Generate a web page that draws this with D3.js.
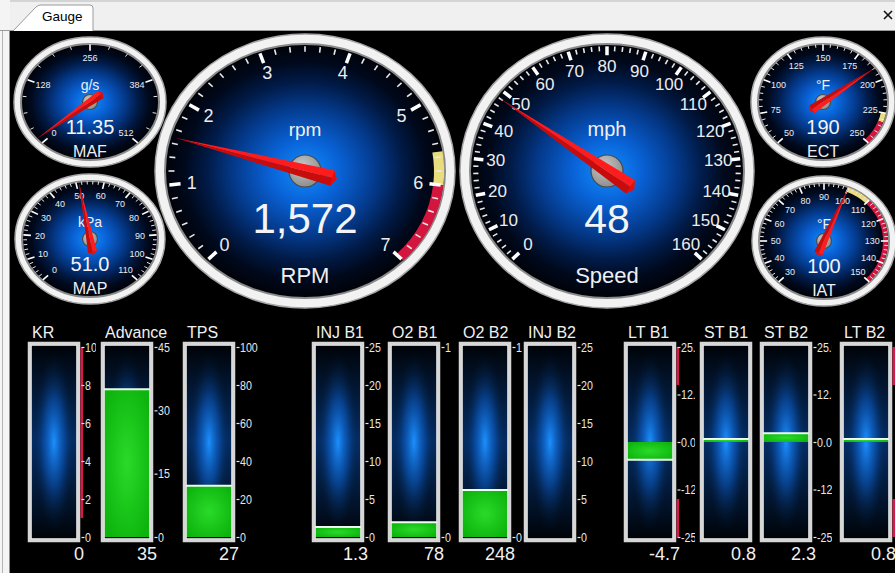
<!DOCTYPE html>
<html><head><meta charset="utf-8">
<script src="https://cdn.jsdelivr.net/npm/d3@7"></script>
<style>html,body{margin:0;padding:0;background:#000;overflow:hidden}svg{display:block}</style>
</head><body><svg id="c" width="895" height="573"></svg>
<script>
// ---------- DATA ----------
const gaugeNames   = ["MAF","MAP","RPM","Speed","ECT","IAT"];
const gaugeUnits   = ["g/s","kPa","rpm","mph","°F","°F"];
const gaugeValues  = [11.35, 51.0, 1572, 48, 190, 100];
const gaugeValueFormats = [".2f", ".1f", ",.0f", ".0f", ".0f", ".0f"];
const gaugeDomains = [[0,512],[0,110],[0,7000],[0,160],[50,250],[30,150]];
const gaugeMajorStep = [128, 10, 1000, 10, 25, 10];
const gaugeMinorStep = [32, 2, 1000/6, 2, 5, 2];
const gaugeLabelDivisor = [1, 1, 1000, 1, 1, 1];
const gaugeWarnZones = [null, null, [5600,6000], null, [225,232], [100,110]];
const gaugeRedZones  = [null, null, [6000,7000], null, [232,250], [110,150]];

const barNames   = ["KR","Advance","TPS","INJ B1","O2 B1","O2 B2","INJ B2","LT B1","ST B1","ST B2","LT B2"];
const barValues  = [0, 35, 27, 1.3, 78, 248, null, -4.7, 0.8, 2.3, 0.8];
const barValueFormats = ["d","d","d",".1f","d","d","d",".1f",".1f",".1f",".1f"];
const barDomains = [[0,10],[0,45],[0,100],[0,25],[0,1000],[0,1000],[0,25],[-25,25],[-25,25],[-25,25],[-25,25]];
const trimTicks = [-25,-12.5,0,12.5,25];
const barTicks   = [[0,2,4,6,8,10],[0,15,30,45],[0,20,40,60,80,100],[0,5,10,15,20,25],[0,1000],[0,1000],[0,5,10,15,20,25],trimTicks,trimTicks,trimTicks,trimTicks];
const barTickDivisor = [1,1,1,1,1000,1000,1,1,1,1,1];
const barTickFormats = ["d","d","d","d","d","d","d",".1f",".1f",".1f",".1f"];
const barRedZones = [[[1,10]],[],[],[],[],[],[],[[15,25],[-25,-15]],[],[],[[15,25],[-25,-15]]];

const tabLabel = "Gauge";

// ---------- LAYOUT ----------
const W = 895;
const FONT = "'Liberation Sans', Arial, sans-serif";
const loc = d3.formatLocale({decimal: ".", thousands: ",", grouping: [3], currency: ["$", ""], minus: "-"});
const small = {ring:7, hub:7.5, tickOut:.89, majIn:.79, minIn:.84, majW:1.6, minW:1, labelR:.67, zoneIn:.82, zoneOut:.89,
               fsTick:9, fsUnit:14, fsVal:20, fsName:16, yUnit:-.19, yVal:.49, yName:.84, tail:13, half:4.5};
const gaugeLayout = [
  Object.assign({cx:90, cy:102, rx:76, ry:65}, small),
  Object.assign({cx:90, cy:239, rx:75, ry:65}, small),
  {cx:305, cy:171, rx:150, ry:137, ring:10, hub:16, tickOut:.91, majIn:.835, minIn:.87, majW:3.5, minW:1.6, labelR:.76, zoneIn:.86, zoneOut:.928,
   fsTick:18, fsUnit:19, fsVal:42, fsName:22, yUnit:-.255, yVal:.45, yName:.82, tail:28, half:8},
  {cx:607, cy:171, rx:147, ry:137, ring:10, hub:16, tickOut:.91, majIn:.845, minIn:.875, majW:3.5, minW:1.6, labelR:.76, zoneIn:.86, zoneOut:.928,
   fsTick:17, fsUnit:20, fsVal:41, fsName:22, yUnit:-.255, yVal:.45, yName:.82, tail:28, half:8},
  Object.assign({cx:823, cy:102, rx:72, ry:65}, small),
  Object.assign({cx:824, cy:241, rx:72, ry:65}, small)
];
const barX = [28, 101, 183, 312, 388, 459, 524, 624, 700, 760, 840];
const barCover = [5, 5, 5, 5, 5, 5, 2, 5, 5, 7, 8];
const barW = 52, barTop = 342, barBot = 542;

const svg = d3.select("#c");
const defs = svg.append("defs");
function grad(type, id, stops, attrs) {
  const gr = defs.append(type).attr("id", id);
  Object.entries(attrs || {}).forEach(([k,v]) => gr.attr(k, v));
  stops.forEach(([o,c,a]) => gr.append("stop").attr("offset", o).attr("stop-color", c).attr("stop-opacity", a == null ? 1 : a));
}
grad("radialGradient", "face", [[0,"#108eff"],[0.25,"#0962d6"],[0.5,"#043b8e"],[0.7,"#011b48"],[0.86,"#00091c"],[1,"#000208"]], {cx:"50%", cy:"50%", r:"50%"});
grad("linearGradient", "barBase", [[0,"#000308"],[0.5,"#05306a"],[1,"#000308"]], {x1:0,y1:0,x2:0,y2:1});
grad("radialGradient", "barGlow", [[0,"#1c90ff",1],[0.45,"#0b5cc4",0.55],[1,"#000000",0]], {cx:"50%", cy:"50%", r:"50%"});
grad("radialGradient", "green", [[0,"#2ada2a"],[1,"#0db40d"]], {cx:"50%", cy:"50%", r:"60%"});
grad("radialGradient", "hubGrad", [[0,"#c8c8c8"],[1,"#8a8a8a"]], {cx:"40%", cy:"35%", r:"70%"});

// ---------- CHROME ----------
svg.append("rect").attr("width", W).attr("height", 573).attr("fill", "#000");
svg.append("rect").attr("width", W).attr("height", 31).attr("fill", "#f0f0f0");
svg.append("rect").attr("width", W).attr("height", 2).attr("fill", "#d4d4d4");
svg.append("rect").attr("x", 0).attr("y", 0).attr("width", 10).attr("height", 573).attr("fill", "#f4f4f4");
svg.append("line").attr("x1", 2.5).attr("x2", 2.5).attr("y1", 30).attr("y2", 573).attr("stroke", "#b4b4b4");
svg.append("line").attr("x1", 9.5).attr("x2", 9.5).attr("y1", 30).attr("y2", 573).attr("stroke", "#8c8c8c");
svg.append("line").attr("x1", 0).attr("x2", W).attr("y1", 30.5).attr("y2", 30.5).attr("stroke", "#9c9c9c");
svg.append("path").attr("d", "M13,31 L36,7 Q38,5 41,5 L90,5 Q93,5 93,8 L93,31")
  .attr("fill", "#ffffff").attr("stroke", "#9a9a9a").attr("stroke-width", 1);
svg.append("text").attr("x", 42).attr("y", 21).attr("font-family", FONT).attr("font-size", 13.5).attr("fill", "#000").text(tabLabel);
svg.append("path").attr("d", "M884,11 L892,19 M892,11 L884,19").attr("stroke", "#111").attr("stroke-width", 1.6);

// ---------- GAUGES ----------
function pt(L, deg, rx, ry) { const a = deg * Math.PI / 180; return [rx * L * Math.sin(a), -ry * L * Math.cos(a)]; }

gaugeNames.forEach((name, i) => {
  const L = gaugeLayout[i];
  const [d0, d1] = gaugeDomains[i];
  const ang = d3.scaleLinear().domain([d0, d1]).range([-135, 135]);
  const g = svg.append("g").attr("transform", `translate(${L.cx},${L.cy})`);
  g.append("ellipse").attr("rx", L.rx).attr("ry", L.ry).attr("fill", "#f2f2f2").attr("stroke", "#a6a6a6").attr("stroke-width", 1.5);
  g.append("ellipse").attr("rx", L.rx - L.ring).attr("ry", L.ry - L.ring).attr("fill", "url(#face)").attr("stroke", "#8a8a8a").attr("stroke-width", 2);

  const zg = g.append("g").attr("transform", `scale(${L.rx},${L.ry})`);
  const zarc = d3.arc().innerRadius(L.zoneIn).outerRadius(L.zoneOut);
  [[gaugeWarnZones[i], "#e9dc7c"], [gaugeRedZones[i], "#d4163f"]].forEach(([z, col]) => {
    if (!z) return;
    zg.append("path").attr("d", zarc({startAngle: ang(z[0]) * Math.PI / 180, endAngle: ang(z[1]) * Math.PI / 180})).attr("fill", col);
  });

  const nMinor = Math.round((d1 - d0) / gaugeMinorStep[i]);
  const minor = d3.range(nMinor + 1).map(k => d0 + k * gaugeMinorStep[i]);
  const nMajor = Math.round((d1 - d0) / gaugeMajorStep[i]);
  const major = d3.range(nMajor + 1).map(k => d0 + k * gaugeMajorStep[i]);
  const isMajor = v => major.some(m => Math.abs(m - v) < 1e-6);
  const seg = (rIn) => function(v) {
    const a = pt(rIn, ang(v), L.rx, L.ry), b = pt(L.tickOut, ang(v), L.rx, L.ry);
    d3.select(this).attr("x1", a[0]).attr("y1", a[1]).attr("x2", b[0]).attr("y2", b[1]);
  };
  g.selectAll(".minor").data(minor.filter(v => !isMajor(v))).join("line").each(seg(L.minIn))
    .attr("stroke", "#e8e8e8").attr("stroke-width", L.minW);
  g.selectAll(".major").data(major).join("line").each(seg(L.majIn))
    .attr("stroke", "#ffffff").attr("stroke-width", L.majW);
  g.selectAll(".lbl").data(major).join("text")
    .attr("x", v => pt(L.labelR, ang(v), L.rx, L.ry)[0])
    .attr("y", v => pt(L.labelR, ang(v), L.rx, L.ry)[1])
    .attr("text-anchor", "middle").attr("dominant-baseline", "central")
    .attr("font-family", FONT).attr("font-size", L.fsTick).attr("fill", "#ececec")
    .text(v => Math.round(v / gaugeLabelDivisor[i]));

  g.append("text").attr("y", L.yUnit * L.ry).attr("text-anchor", "middle").attr("font-family", FONT)
    .attr("font-size", L.fsUnit).attr("fill", "#f0f0f0").text(gaugeUnits[i]);
  g.append("text").attr("y", L.yVal * L.ry).attr("text-anchor", "middle").attr("font-family", FONT)
    .attr("font-size", L.fsVal).attr("fill", "#f4f4f4").text(loc.format(gaugeValueFormats[i])(gaugeValues[i]));
  g.append("text").attr("y", L.yName * L.ry).attr("text-anchor", "middle").attr("font-family", FONT)
    .attr("font-size", L.fsName).attr("fill", "#f0f0f0").text(name);

  g.append("circle").attr("r", L.hub).attr("fill", "url(#hubGrad)").attr("stroke", "#4a4a4a").attr("stroke-width", 1.2);
  const a = ang(gaugeValues[i]);
  const tip = pt(0.9, a, L.rx, L.ry);
  const len = Math.hypot(tip[0], tip[1]);
  const d = [tip[0] / len, tip[1] / len], p = [-d[1], d[0]];
  const tail = [-d[0] * L.tail, -d[1] * L.tail];
  const tailEnd = [tail[0] - d[0] * L.half * 0.6, tail[1] - d[1] * L.half * 0.6];
  const b1 = [tail[0] + p[0] * L.half, tail[1] + p[1] * L.half];
  const b2 = [tail[0] - p[0] * L.half, tail[1] - p[1] * L.half];
  g.append("path").attr("d", `M${tip}L${b1}L${tailEnd}Z`).attr("fill", "#ff1c1c");
  g.append("path").attr("d", `M${tip}L${b2}L${tailEnd}Z`).attr("fill", "#c80b0b");
  g.append("path").attr("d", `M${b1}L${tailEnd}L${b2}L${tail}Z`).attr("fill", "#e01010");
});

// ---------- BARS ----------
barNames.forEach((name, i) => {
  const x0 = barX[i], x1 = x0 + barW;
  const y = d3.scaleLinear().domain(barDomains[i]).range([barBot - 5, barTop + 5]);
  const g = svg.append("g");
  g.append("rect").attr("x", x0 - barCover[i]).attr("y", barTop - 1).attr("width", barCover[i]).attr("height", barBot - barTop + 3).attr("fill", "#000");
  g.append("rect").attr("x", x0 + 3).attr("y", barTop + 3).attr("width", barW - 6).attr("height", barBot - barTop - 6).attr("fill", "url(#barBase)");
  g.append("rect").attr("x", x0 + 3).attr("y", barTop + 3).attr("width", barW - 6).attr("height", barBot - barTop - 6).attr("fill", "url(#barGlow)");
  const v = barValues[i];
  const base = barDomains[i][0] < 0 ? 0 : barDomains[i][0];
  if (v != null && v !== base) {
    const ya = y(Math.max(v, base)), yb = y(Math.min(v, base));
    g.append("rect").attr("x", x0 + 3).attr("y", ya).attr("width", barW - 6).attr("height", Math.max(yb - ya, 1.5)).attr("fill", "url(#green)");
    g.append("line").attr("x1", x0 + 3).attr("x2", x1 - 3).attr("y1", y(v)).attr("y2", y(v)).attr("stroke", "#ecffec").attr("stroke-width", 2);
  }
  g.append("rect").attr("x", x0 + 1.5).attr("y", barTop + 1.5).attr("width", barW - 3).attr("height", barBot - barTop - 3)
    .attr("fill", "none").attr("stroke", "#d6d6d6").attr("stroke-width", 3.5);
  g.append("rect").attr("x", x0 + 3.3).attr("y", barTop + 3.3).attr("width", barW - 6.6).attr("height", barBot - barTop - 6.6)
    .attr("fill", "none").attr("stroke", "#f4f4f4").attr("stroke-width", 0.8);
  barRedZones[i].forEach(z => {
    g.append("line").attr("x1", x1 + 1.8).attr("x2", x1 + 1.8).attr("y1", y(z[1])).attr("y2", y(z[0]))
      .attr("stroke", "#d01c48").attr("stroke-width", 2.6);
  });
  if (x1 + 8 < W) {
    const fmt = loc.format(barTickFormats[i]);
    const ax = g.append("g").attr("transform", `translate(${x1 + 1.5},0)`)
      .call(d3.axisRight(y).tickValues(barTicks[i]).tickFormat(t => fmt(t / barTickDivisor[i])).tickSize(3).tickPadding(2).tickSizeOuter(0));
    ax.select(".domain").remove();
    ax.selectAll("line").attr("stroke", "#e8e8e8").attr("stroke-width", 1.2);
    ax.selectAll("text").attr("fill", "#e8e8e8").attr("font-family", FONT).attr("font-size", 13)
      .attr("transform", "scale(0.82,1)").attr("x", 4.3);
  }
  g.append("text").attr("x", x0 + 4).attr("y", barTop - 4).attr("font-family", FONT).attr("font-size", 16)
    .attr("fill", "#f0f0f0").text(name);
  if (v != null) {
    g.append("text").attr("x", x1 + 4).attr("y", 560).attr("text-anchor", "end").attr("font-family", FONT)
      .attr("font-size", 18).attr("fill", "#f0f0f0").text(loc.format(barValueFormats[i])(v));
  }
});
</script>
</body></html>
